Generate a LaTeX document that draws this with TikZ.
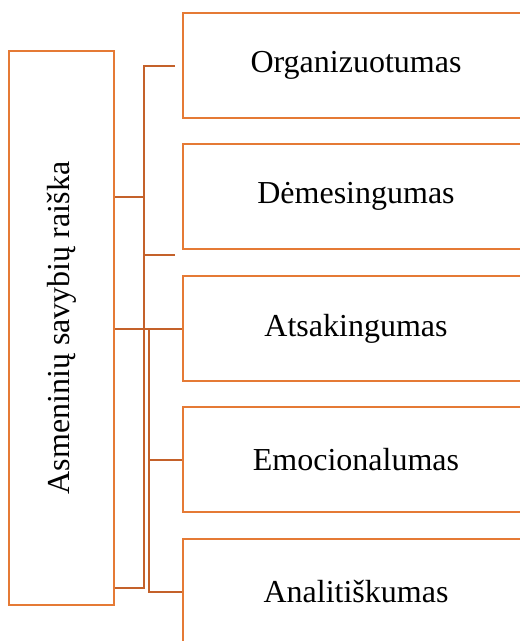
\documentclass[tikz,border=0pt]{standalone}
\usepackage{fontspec}
\setmainfont{Liberation Serif}
\usepackage{tikz}
\usetikzlibrary{positioning}
\definecolor{boxorange}{HTML}{E57A35}
\definecolor{linkorange}{HTML}{C4612A}
\tikzset{
  box/.style={draw=boxorange,line width=2pt,fill=white,inner sep=0pt,
    minimum width=346pt,minimum height=105pt,font=\fontsize{32}{36}\selectfont},
  link/.style={draw=linkorange,line width=2pt}
}
\begin{document}
\begin{tikzpicture}[x=1pt,y=-1pt]
\useasboundingbox (0,0) rectangle (520,641);

\node[box,minimum width=105pt,minimum height=554pt] (0) at (61.5,328)
  {\rotatebox{90}{Asmeninių savybių raiška}};
\node[box] (1) at (356,65.5){Organizuotumas};
\node[box] (2) at (356,196.5){Dėmesingumas};
\node[box] (3) at (356,328.5){Atsakingumas};
\node[box] (4) at (356,459.5){Emocionalumas};
\node[box] (5) at (356,591.5){Analitiškumas};

% first bracket
\coordinate (ta) at (144,65.5);
\coordinate (ba) at (144,588);
\coordinate (e1) at (175,65.5);
\coordinate (e2) at (175,255);
\draw[link] (e1) -- (ta) -- (ba) -- (0.east |- ba);
\draw[link] (0.east |- 2.west) -- (ta |- 2.west);
\draw[link] (e2) -- (ta |- e2);

% second bracket
\coordinate (tb) at (149,328.5);
\draw[link] (0.east |- 3.west) -- (3.west);
\draw[link] (tb) -- (tb |- 5.west) -- (5.west);
\draw[link] (tb |- 4.west) -- (4.west);

\end{tikzpicture}
\end{document}
